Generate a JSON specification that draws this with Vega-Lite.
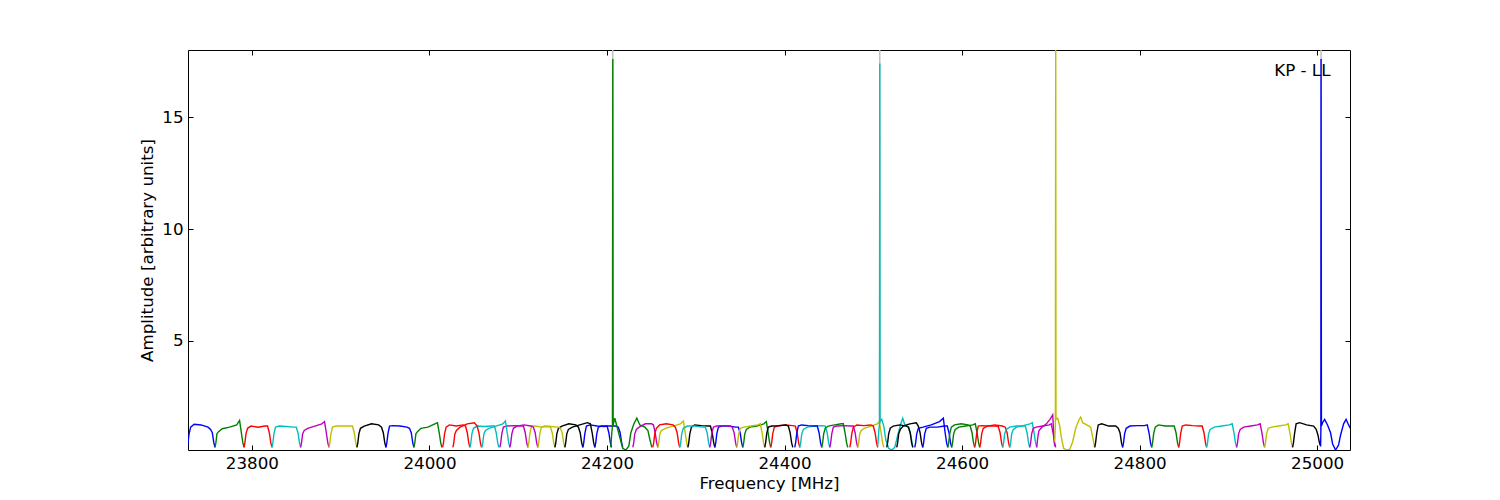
{
"$schema":"https://vega.github.io/schema/vega-lite/v6.json",
"width":1162,"height":400,
"autosize":{"type":"none"},
"padding":{"left":188,"top":50,"right":150,"bottom":50},
"background":"white",
"datasets":{
"g":[
{"s":1,"f":24206.2,"a":1.2},{"s":1,"f":24206.5,"a":19},{"s":1,"f":24206.9,"a":1.2},
{"s":2,"f":24507.0,"a":1.3},{"s":2,"f":24507.3,"a":19},{"s":2,"f":24507.6,"a":1.3},
{"s":3,"f":25004.2,"a":1.0},{"s":3,"f":25004.4,"a":19},{"s":3,"f":25004.8,"a":1.2}
],
"t":[{"f":25015,"a":16.83,"label":"KP - LL"}],
"d":[
{"s":1,"c":"b","f":23727,"a":0.25},{"s":1,"c":"b","f":23728.0,"a":0.45},{"s":1,"c":"b","f":23729.2,"a":0.85},{"s":1,"c":"b","f":23731.0,"a":1.15},{"s":1,"c":"b","f":23734.9,"a":1.28},{"s":1,"c":"b","f":23742.7,"a":1.25},{"s":1,"c":"b","f":23750.6,"a":1.15},{"s":1,"c":"b","f":23753.4,"a":1.05},{"s":1,"c":"b","f":23755.4,"a":0.9},{"s":1,"c":"b","f":23757.1,"a":0.45},{"s":1,"c":"b","f":23758.4,"a":0.25},
{"s":2,"c":"g","f":23758.4,"a":0.25},{"s":2,"c":"g","f":23759.4,"a":0.45},{"s":2,"c":"g","f":23760.6,"a":0.85},{"s":2,"c":"g","f":23762.4,"a":0.95},{"s":2,"c":"g","f":23766.6,"a":1.08},{"s":2,"c":"g","f":23774.8,"a":1.15},{"s":2,"c":"g","f":23782.9,"a":1.25},{"s":2,"c":"g","f":23786.1,"a":1.45},{"s":2,"c":"g","f":23788.1,"a":0.9},{"s":2,"c":"g","f":23789.8,"a":0.45},{"s":2,"c":"g","f":23791.1,"a":0.25},
{"s":3,"c":"r","f":23791.1,"a":0.25},{"s":3,"c":"r","f":23792.1,"a":0.45},{"s":3,"c":"r","f":23793.3,"a":0.85},{"s":3,"c":"r","f":23795.1,"a":1.1},{"s":3,"c":"r","f":23799.0,"a":1.2},{"s":3,"c":"r","f":23806.9,"a":1.15},{"s":3,"c":"r","f":23814.7,"a":1.2},{"s":3,"c":"r","f":23817.6,"a":1.2},{"s":3,"c":"r","f":23819.6,"a":0.9},{"s":3,"c":"r","f":23821.3,"a":0.45},{"s":3,"c":"r","f":23822.6,"a":0.25},
{"s":4,"c":"c","f":23822.6,"a":0.25},{"s":4,"c":"c","f":23823.6,"a":0.45},{"s":4,"c":"c","f":23824.8,"a":0.85},{"s":4,"c":"c","f":23826.6,"a":1.15},{"s":4,"c":"c","f":23830.7,"a":1.2},{"s":4,"c":"c","f":23838.8,"a":1.18},{"s":4,"c":"c","f":23846.8,"a":1.15},{"s":4,"c":"c","f":23849.9,"a":1.15},{"s":4,"c":"c","f":23851.9,"a":0.9},{"s":4,"c":"c","f":23853.6,"a":0.45},{"s":4,"c":"c","f":23854.9,"a":0.25},
{"s":5,"c":"m","f":23854.9,"a":0.25},{"s":5,"c":"m","f":23855.9,"a":0.45},{"s":5,"c":"m","f":23857.1,"a":0.85},{"s":5,"c":"m","f":23858.9,"a":1.0},{"s":5,"c":"m","f":23862.9,"a":1.1},{"s":5,"c":"m","f":23870.9,"a":1.2},{"s":5,"c":"m","f":23878.8,"a":1.3},{"s":5,"c":"m","f":23881.8,"a":1.4},{"s":5,"c":"m","f":23883.8,"a":0.9},{"s":5,"c":"m","f":23885.5,"a":0.45},{"s":5,"c":"m","f":23886.8,"a":0.25},
{"s":6,"c":"y","f":23886.8,"a":0.25},{"s":6,"c":"y","f":23887.8,"a":0.45},{"s":6,"c":"y","f":23889.0,"a":0.85},{"s":6,"c":"y","f":23890.8,"a":1.15},{"s":6,"c":"y","f":23894.7,"a":1.2},{"s":6,"c":"y","f":23902.6,"a":1.2},{"s":6,"c":"y","f":23910.4,"a":1.2},{"s":6,"c":"y","f":23913.3,"a":1.2},{"s":6,"c":"y","f":23915.3,"a":0.9},{"s":6,"c":"y","f":23917.0,"a":0.45},{"s":6,"c":"y","f":23918.3,"a":0.25},
{"s":7,"c":"k","f":23918.3,"a":0.25},{"s":7,"c":"k","f":23919.3,"a":0.45},{"s":7,"c":"k","f":23920.5,"a":0.85},{"s":7,"c":"k","f":23922.3,"a":1.1},{"s":7,"c":"k","f":23926.5,"a":1.2},{"s":7,"c":"k","f":23934.7,"a":1.3},{"s":7,"c":"k","f":23942.8,"a":1.25},{"s":7,"c":"k","f":23946.0,"a":1.15},{"s":7,"c":"k","f":23948.0,"a":0.9},{"s":7,"c":"k","f":23949.7,"a":0.45},{"s":7,"c":"k","f":23951.0,"a":0.25},
{"s":8,"c":"b","f":23951.0,"a":0.25},{"s":8,"c":"b","f":23952.0,"a":0.45},{"s":8,"c":"b","f":23953.2,"a":0.85},{"s":8,"c":"b","f":23955.0,"a":1.2},{"s":8,"c":"b","f":23958.9,"a":1.22},{"s":8,"c":"b","f":23966.8,"a":1.2},{"s":8,"c":"b","f":23974.6,"a":1.15},{"s":8,"c":"b","f":23977.5,"a":1.1},{"s":8,"c":"b","f":23979.5,"a":0.9},{"s":8,"c":"b","f":23981.2,"a":0.45},{"s":8,"c":"b","f":23982.5,"a":0.25},
{"s":9,"c":"g","f":23982.5,"a":0.25},{"s":9,"c":"g","f":23983.5,"a":0.45},{"s":9,"c":"g","f":23984.7,"a":0.85},{"s":9,"c":"g","f":23986.5,"a":0.95},{"s":9,"c":"g","f":23990.4,"a":1.1},{"s":9,"c":"g","f":23998.3,"a":1.15},{"s":9,"c":"g","f":24006.1,"a":1.3},{"s":9,"c":"g","f":24009.0,"a":1.35},{"s":9,"c":"g","f":24011.0,"a":0.9},{"s":9,"c":"g","f":24012.7,"a":0.45},{"s":9,"c":"g","f":24014.0,"a":0.25},
{"s":10,"c":"r","f":24014.8,"a":0.25},{"s":10,"c":"r","f":24015.8,"a":0.45},{"s":10,"c":"r","f":24017.0,"a":0.85},{"s":10,"c":"r","f":24018.8,"a":1.15},{"s":10,"c":"r","f":24022.5,"a":1.25},{"s":10,"c":"r","f":24030.2,"a":1.2},{"s":10,"c":"r","f":24037.9,"a":1.25},{"s":10,"c":"r","f":24040.6,"a":1.2},{"s":10,"c":"r","f":24042.6,"a":0.9},{"s":10,"c":"r","f":24044.3,"a":0.45},{"s":10,"c":"r","f":24045.6,"a":0.25},
{"s":11,"c":"c","f":24045.6,"a":0.25},{"s":11,"c":"c","f":24046.6,"a":0.45},{"s":11,"c":"c","f":24047.8,"a":0.85},{"s":11,"c":"c","f":24049.6,"a":1.1},{"s":11,"c":"c","f":24053.8,"a":1.2},{"s":11,"c":"c","f":24061.9,"a":1.18},{"s":11,"c":"c","f":24070.1,"a":1.2},{"s":11,"c":"c","f":24073.2,"a":1.2},{"s":11,"c":"c","f":24075.2,"a":0.9},{"s":11,"c":"c","f":24076.9,"a":0.45},{"s":11,"c":"c","f":24078.2,"a":0.25},
{"s":12,"c":"m","f":24079.3,"a":0.25},{"s":12,"c":"m","f":24080.3,"a":0.45},{"s":12,"c":"m","f":24081.5,"a":0.85},{"s":12,"c":"m","f":24083.3,"a":1.15},{"s":12,"c":"m","f":24087.2,"a":1.2},{"s":12,"c":"m","f":24095.1,"a":1.22},{"s":12,"c":"m","f":24103.0,"a":1.2},{"s":12,"c":"m","f":24105.9,"a":1.2},{"s":12,"c":"m","f":24107.9,"a":0.9},{"s":12,"c":"m","f":24109.6,"a":0.45},{"s":12,"c":"m","f":24110.9,"a":0.25},
{"s":13,"c":"y","f":24110.9,"a":0.25},{"s":13,"c":"y","f":24111.9,"a":0.45},{"s":13,"c":"y","f":24113.1,"a":0.85},{"s":13,"c":"y","f":24114.9,"a":1.2},{"s":13,"c":"y","f":24118.5,"a":1.2},{"s":13,"c":"y","f":24126.1,"a":1.15},{"s":13,"c":"y","f":24133.7,"a":1.18},{"s":13,"c":"y","f":24136.3,"a":1.15},{"s":13,"c":"y","f":24138.3,"a":0.9},{"s":13,"c":"y","f":24140.0,"a":0.45},{"s":13,"c":"y","f":24141.3,"a":0.25},
{"s":14,"c":"k","f":24141.3,"a":0.25},{"s":14,"c":"k","f":24142.3,"a":0.45},{"s":14,"c":"k","f":24143.5,"a":0.85},{"s":14,"c":"k","f":24145.3,"a":1.1},{"s":14,"c":"k","f":24149.2,"a":1.2},{"s":14,"c":"k","f":24157.1,"a":1.3},{"s":14,"c":"k","f":24164.9,"a":1.25},{"s":14,"c":"k","f":24167.8,"a":1.15},{"s":14,"c":"k","f":24169.8,"a":0.9},{"s":14,"c":"k","f":24171.5,"a":0.45},{"s":14,"c":"k","f":24172.8,"a":0.25},
{"s":15,"c":"b","f":24172.8,"a":0.25},{"s":15,"c":"b","f":24173.8,"a":0.45},{"s":15,"c":"b","f":24175.0,"a":0.85},{"s":15,"c":"b","f":24176.8,"a":1.2},{"s":15,"c":"b","f":24180.9,"a":1.25},{"s":15,"c":"b","f":24189.0,"a":1.2},{"s":15,"c":"b","f":24197.0,"a":1.18},{"s":15,"c":"b","f":24200.1,"a":1.2},{"s":15,"c":"b","f":24202.1,"a":0.9},{"s":15,"c":"b","f":24203.8,"a":0.45},{"s":15,"c":"b","f":24205.1,"a":0.25},
{"s":16,"c":"r","f":24026.4,"a":0.25},{"s":16,"c":"r","f":24027.4,"a":0.45},{"s":16,"c":"r","f":24028.6,"a":0.85},{"s":16,"c":"r","f":24030.4,"a":1.0},{"s":16,"c":"r","f":24034.5,"a":1.15},{"s":16,"c":"r","f":24042.6,"a":1.3},{"s":16,"c":"r","f":24050.6,"a":1.35},{"s":16,"c":"r","f":24053.7,"a":1.2},{"s":16,"c":"r","f":24055.7,"a":0.9},{"s":16,"c":"r","f":24057.4,"a":0.45},{"s":16,"c":"r","f":24058.7,"a":0.25},
{"s":17,"c":"c","f":24059.1,"a":0.25},{"s":17,"c":"c","f":24060.1,"a":0.45},{"s":17,"c":"c","f":24061.3,"a":0.85},{"s":17,"c":"c","f":24063.1,"a":1.0},{"s":17,"c":"c","f":24067.0,"a":1.1},{"s":17,"c":"c","f":24074.9,"a":1.2},{"s":17,"c":"c","f":24082.7,"a":1.3},{"s":17,"c":"c","f":24085.6,"a":1.42},{"s":17,"c":"c","f":24087.6,"a":0.9},{"s":17,"c":"c","f":24089.3,"a":0.45},{"s":17,"c":"c","f":24090.6,"a":0.25},
{"s":18,"c":"m","f":24090.6,"a":0.25},{"s":18,"c":"m","f":24091.6,"a":0.45},{"s":18,"c":"m","f":24092.8,"a":0.85},{"s":18,"c":"m","f":24094.6,"a":1.1},{"s":18,"c":"m","f":24098.5,"a":1.2},{"s":18,"c":"m","f":24106.4,"a":1.25},{"s":18,"c":"m","f":24114.2,"a":1.2},{"s":18,"c":"m","f":24117.1,"a":1.15},{"s":18,"c":"m","f":24119.1,"a":0.9},{"s":18,"c":"m","f":24120.8,"a":0.45},{"s":18,"c":"m","f":24122.1,"a":0.25},
{"s":19,"c":"y","f":24122.1,"a":0.25},{"s":19,"c":"y","f":24123.1,"a":0.45},{"s":19,"c":"y","f":24124.3,"a":0.85},{"s":19,"c":"y","f":24126.1,"a":1.15},{"s":19,"c":"y","f":24129.7,"a":1.2},{"s":19,"c":"y","f":24137.3,"a":1.18},{"s":19,"c":"y","f":24144.9,"a":1.15},{"s":19,"c":"y","f":24147.5,"a":1.1},{"s":19,"c":"y","f":24149.5,"a":0.9},{"s":19,"c":"y","f":24151.2,"a":0.45},{"s":19,"c":"y","f":24152.5,"a":0.25},
{"s":20,"c":"k","f":24152.5,"a":0.25},{"s":20,"c":"k","f":24153.5,"a":0.45},{"s":20,"c":"k","f":24154.7,"a":0.85},{"s":20,"c":"k","f":24156.5,"a":1.05},{"s":20,"c":"k","f":24161.0,"a":1.15},{"s":20,"c":"k","f":24169.4,"a":1.25},{"s":20,"c":"k","f":24177.9,"a":1.35},{"s":20,"c":"k","f":24181.3,"a":1.3},{"s":20,"c":"k","f":24183.3,"a":0.9},{"s":20,"c":"k","f":24185.0,"a":0.45},{"s":20,"c":"k","f":24186.3,"a":0.25},
{"s":21,"c":"b","f":24186.3,"a":0.25},{"s":21,"c":"b","f":24187.3,"a":0.45},{"s":21,"c":"b","f":24188.5,"a":0.85},{"s":21,"c":"b","f":24190.3,"a":1.15},{"s":21,"c":"b","f":24194.2,"a":1.2},{"s":21,"c":"b","f":24202.1,"a":1.2},{"s":21,"c":"b","f":24209.9,"a":1.2},{"s":21,"c":"b","f":24212.8,"a":1.15},{"s":21,"c":"b","f":24214.8,"a":0.9},{"s":21,"c":"b","f":24216.5,"a":0.45},{"s":21,"c":"b","f":24217.8,"a":0.25},
{"s":22,"c":"g","f":24204.3,"a":0.25},{"s":22,"c":"g","f":24205.4,"a":0.9},{"s":22,"c":"g","f":24206.2,"a":1.2},{"s":22,"c":"g","f":24206.5,"a":17.6},{"s":22,"c":"g","f":24206.9,"a":1.25},{"s":22,"c":"g","f":24208.8,"a":1.55},{"s":22,"c":"g","f":24211.1,"a":1.2},{"s":22,"c":"g","f":24214.4,"a":0.7},{"s":22,"c":"g","f":24217.8,"a":0.2},{"s":22,"c":"g","f":24221.2,"a":0.13},{"s":22,"c":"g","f":24224.6,"a":0.3},{"s":22,"c":"g","f":24226.9,"a":0.9},{"s":22,"c":"g","f":24230.3,"a":1.3},{"s":22,"c":"g","f":24233.6,"a":1.55},{"s":22,"c":"g","f":24237.0,"a":1.25},{"s":22,"c":"g","f":24242.7,"a":1.15},{"s":22,"c":"g","f":24246.1,"a":1.0},{"s":22,"c":"g","f":24248.3,"a":0.6},{"s":22,"c":"g","f":24250.5,"a":0.25},
{"s":23,"c":"m","f":24229.1,"a":0.25},{"s":23,"c":"m","f":24230.1,"a":0.45},{"s":23,"c":"m","f":24231.3,"a":0.85},{"s":23,"c":"m","f":24233.1,"a":1.05},{"s":23,"c":"m","f":24236.2,"a":1.15},{"s":23,"c":"m","f":24243.2,"a":1.3},{"s":23,"c":"m","f":24250.3,"a":1.3},{"s":23,"c":"m","f":24252.3,"a":1.25},{"s":23,"c":"m","f":24254.3,"a":0.9},{"s":23,"c":"m","f":24256.0,"a":0.45},{"s":23,"c":"m","f":24257.3,"a":0.25},
{"s":24,"c":"y","f":24257.3,"a":0.25},{"s":24,"c":"y","f":24258.3,"a":0.45},{"s":24,"c":"y","f":24259.5,"a":0.85},{"s":24,"c":"y","f":24261.3,"a":1.0},{"s":24,"c":"y","f":24265.8,"a":1.1},{"s":24,"c":"y","f":24274.2,"a":1.2},{"s":24,"c":"y","f":24282.7,"a":1.3},{"s":24,"c":"y","f":24286.1,"a":1.42},{"s":24,"c":"y","f":24288.1,"a":0.9},{"s":24,"c":"y","f":24289.8,"a":0.45},{"s":24,"c":"y","f":24291.1,"a":0.25},
{"s":25,"c":"k","f":24291.1,"a":0.25},{"s":25,"c":"k","f":24292.1,"a":0.45},{"s":25,"c":"k","f":24293.3,"a":0.85},{"s":25,"c":"k","f":24295.1,"a":1.15},{"s":25,"c":"k","f":24298.7,"a":1.25},{"s":25,"c":"k","f":24306.3,"a":1.22},{"s":25,"c":"k","f":24313.9,"a":1.2},{"s":25,"c":"k","f":24316.5,"a":1.2},{"s":25,"c":"k","f":24318.5,"a":0.9},{"s":25,"c":"k","f":24320.2,"a":0.45},{"s":25,"c":"k","f":24321.5,"a":0.25},
{"s":26,"c":"b","f":24321.5,"a":0.25},{"s":26,"c":"b","f":24322.5,"a":0.45},{"s":26,"c":"b","f":24323.7,"a":0.85},{"s":26,"c":"b","f":24325.5,"a":1.15},{"s":26,"c":"b","f":24329.4,"a":1.2},{"s":26,"c":"b","f":24337.3,"a":1.2},{"s":26,"c":"b","f":24345.1,"a":1.15},{"s":26,"c":"b","f":24348.0,"a":1.15},{"s":26,"c":"b","f":24350.0,"a":0.9},{"s":26,"c":"b","f":24351.7,"a":0.45},{"s":26,"c":"b","f":24353.0,"a":0.25},
{"s":27,"c":"g","f":24353.0,"a":0.25},{"s":27,"c":"g","f":24354.0,"a":0.45},{"s":27,"c":"g","f":24355.2,"a":0.85},{"s":27,"c":"g","f":24357.0,"a":1.05},{"s":27,"c":"g","f":24360.9,"a":1.15},{"s":27,"c":"g","f":24368.8,"a":1.2},{"s":27,"c":"g","f":24376.6,"a":1.3},{"s":27,"c":"g","f":24379.5,"a":1.4},{"s":27,"c":"g","f":24381.5,"a":0.9},{"s":27,"c":"g","f":24383.2,"a":0.45},{"s":27,"c":"g","f":24384.5,"a":0.25},
{"s":28,"c":"r","f":24384.5,"a":0.25},{"s":28,"c":"r","f":24385.5,"a":0.45},{"s":28,"c":"r","f":24386.7,"a":0.85},{"s":28,"c":"r","f":24388.5,"a":1.15},{"s":28,"c":"r","f":24392.7,"a":1.2},{"s":28,"c":"r","f":24400.9,"a":1.25},{"s":28,"c":"r","f":24409.0,"a":1.22},{"s":28,"c":"r","f":24412.2,"a":1.2},{"s":28,"c":"r","f":24414.2,"a":0.9},{"s":28,"c":"r","f":24415.9,"a":0.45},{"s":28,"c":"r","f":24417.2,"a":0.25},
{"s":29,"c":"c","f":24417.2,"a":0.25},{"s":29,"c":"c","f":24418.2,"a":0.45},{"s":29,"c":"c","f":24419.4,"a":0.85},{"s":29,"c":"c","f":24421.2,"a":1.05},{"s":29,"c":"c","f":24425.7,"a":1.15},{"s":29,"c":"c","f":24434.1,"a":1.2},{"s":29,"c":"c","f":24442.6,"a":1.22},{"s":29,"c":"c","f":24446.0,"a":1.2},{"s":29,"c":"c","f":24448.0,"a":0.9},{"s":29,"c":"c","f":24449.7,"a":0.45},{"s":29,"c":"c","f":24451.0,"a":0.25},
{"s":30,"c":"m","f":24451.0,"a":0.25},{"s":30,"c":"m","f":24452.0,"a":0.45},{"s":30,"c":"m","f":24453.2,"a":0.85},{"s":30,"c":"m","f":24455.0,"a":1.15},{"s":30,"c":"m","f":24458.9,"a":1.2},{"s":30,"c":"m","f":24466.8,"a":1.22},{"s":30,"c":"m","f":24474.6,"a":1.2},{"s":30,"c":"m","f":24477.5,"a":1.2},{"s":30,"c":"m","f":24479.5,"a":0.9},{"s":30,"c":"m","f":24481.2,"a":0.45},{"s":30,"c":"m","f":24482.5,"a":0.25},
{"s":31,"c":"y","f":24482.5,"a":0.25},{"s":31,"c":"y","f":24483.5,"a":0.45},{"s":31,"c":"y","f":24484.7,"a":0.85},{"s":31,"c":"y","f":24486.5,"a":1.0},{"s":31,"c":"y","f":24489.8,"a":1.1},{"s":31,"c":"y","f":24497.2,"a":1.2},{"s":31,"c":"y","f":24504.5,"a":1.3},{"s":31,"c":"y","f":24506.8,"a":1.4},{"s":31,"c":"y","f":24508.8,"a":0.9},{"s":31,"c":"y","f":24510.5,"a":0.45},{"s":31,"c":"y","f":24511.8,"a":0.25},
{"s":32,"c":"r","f":24251.6,"a":0.25},{"s":32,"c":"r","f":24252.6,"a":0.45},{"s":32,"c":"r","f":24253.8,"a":0.85},{"s":32,"c":"r","f":24255.6,"a":1.1},{"s":32,"c":"r","f":24259.2,"a":1.25},{"s":32,"c":"r","f":24266.8,"a":1.3},{"s":32,"c":"r","f":24274.4,"a":1.25},{"s":32,"c":"r","f":24277.0,"a":1.15},{"s":32,"c":"r","f":24279.0,"a":0.9},{"s":32,"c":"r","f":24280.7,"a":0.45},{"s":32,"c":"r","f":24282.0,"a":0.25},
{"s":33,"c":"c","f":24282.0,"a":0.25},{"s":33,"c":"c","f":24283.0,"a":0.45},{"s":33,"c":"c","f":24284.2,"a":0.85},{"s":33,"c":"c","f":24286.0,"a":1.1},{"s":33,"c":"c","f":24290.5,"a":1.2},{"s":33,"c":"c","f":24298.9,"a":1.2},{"s":33,"c":"c","f":24307.4,"a":1.15},{"s":33,"c":"c","f":24310.8,"a":1.15},{"s":33,"c":"c","f":24312.8,"a":0.9},{"s":33,"c":"c","f":24314.5,"a":0.45},{"s":33,"c":"c","f":24315.8,"a":0.25},
{"s":34,"c":"m","f":24315.8,"a":0.25},{"s":34,"c":"m","f":24316.8,"a":0.45},{"s":34,"c":"m","f":24318.0,"a":0.85},{"s":34,"c":"m","f":24319.8,"a":1.15},{"s":34,"c":"m","f":24323.4,"a":1.2},{"s":34,"c":"m","f":24331.0,"a":1.22},{"s":34,"c":"m","f":24338.6,"a":1.2},{"s":34,"c":"m","f":24341.2,"a":1.15},{"s":34,"c":"m","f":24343.2,"a":0.9},{"s":34,"c":"m","f":24344.9,"a":0.45},{"s":34,"c":"m","f":24346.2,"a":0.25},
{"s":35,"c":"y","f":24346.2,"a":0.25},{"s":35,"c":"y","f":24347.2,"a":0.45},{"s":35,"c":"y","f":24348.4,"a":0.85},{"s":35,"c":"y","f":24350.2,"a":1.1},{"s":35,"c":"y","f":24354.1,"a":1.15},{"s":35,"c":"y","f":24362.0,"a":1.2},{"s":35,"c":"y","f":24369.8,"a":1.25},{"s":35,"c":"y","f":24372.7,"a":1.3},{"s":35,"c":"y","f":24374.7,"a":0.9},{"s":35,"c":"y","f":24376.4,"a":0.45},{"s":35,"c":"y","f":24377.7,"a":0.25},
{"s":36,"c":"k","f":24377.7,"a":0.25},{"s":36,"c":"k","f":24378.7,"a":0.45},{"s":36,"c":"k","f":24379.9,"a":0.85},{"s":36,"c":"k","f":24381.7,"a":1.15},{"s":36,"c":"k","f":24385.6,"a":1.2},{"s":36,"c":"k","f":24393.5,"a":1.22},{"s":36,"c":"k","f":24401.4,"a":1.25},{"s":36,"c":"k","f":24404.3,"a":1.2},{"s":36,"c":"k","f":24406.3,"a":0.9},{"s":36,"c":"k","f":24408.0,"a":0.45},{"s":36,"c":"k","f":24409.3,"a":0.25},
{"s":37,"c":"b","f":24411.5,"a":0.25},{"s":37,"c":"b","f":24412.5,"a":0.45},{"s":37,"c":"b","f":24413.7,"a":0.85},{"s":37,"c":"b","f":24415.5,"a":1.2},{"s":37,"c":"b","f":24419.1,"a":1.25},{"s":37,"c":"b","f":24426.7,"a":1.22},{"s":37,"c":"b","f":24434.3,"a":1.2},{"s":37,"c":"b","f":24436.9,"a":1.2},{"s":37,"c":"b","f":24438.9,"a":0.9},{"s":37,"c":"b","f":24440.6,"a":0.45},{"s":37,"c":"b","f":24441.9,"a":0.25},
{"s":38,"c":"g","f":24441.9,"a":0.25},{"s":38,"c":"g","f":24442.9,"a":0.45},{"s":38,"c":"g","f":24444.1,"a":0.85},{"s":38,"c":"g","f":24445.9,"a":1.1},{"s":38,"c":"g","f":24449.2,"a":1.2},{"s":38,"c":"g","f":24456.6,"a":1.25},{"s":38,"c":"g","f":24463.9,"a":1.3},{"s":38,"c":"g","f":24466.2,"a":1.3},{"s":38,"c":"g","f":24468.2,"a":0.9},{"s":38,"c":"g","f":24469.9,"a":0.45},{"s":38,"c":"g","f":24471.2,"a":0.25},
{"s":39,"c":"r","f":24473.5,"a":0.25},{"s":39,"c":"r","f":24474.5,"a":0.45},{"s":39,"c":"r","f":24475.7,"a":0.85},{"s":39,"c":"r","f":24477.5,"a":1.15},{"s":39,"c":"r","f":24481.4,"a":1.25},{"s":39,"c":"r","f":24489.3,"a":1.22},{"s":39,"c":"r","f":24497.1,"a":1.25},{"s":39,"c":"r","f":24500.0,"a":1.2},{"s":39,"c":"r","f":24502.0,"a":0.9},{"s":39,"c":"r","f":24503.7,"a":0.45},{"s":39,"c":"r","f":24505.0,"a":0.25},
{"s":40,"c":"c","f":24505.0,"a":0.3},{"s":40,"c":"c","f":24506.2,"a":1.0},{"s":40,"c":"c","f":24507.0,"a":1.3},{"s":40,"c":"c","f":24507.3,"a":17.4},{"s":40,"c":"c","f":24507.6,"a":1.4},{"s":40,"c":"c","f":24509.5,"a":1.5},{"s":40,"c":"c","f":24511.8,"a":1.2},{"s":40,"c":"c","f":24514.0,"a":0.6},{"s":40,"c":"c","f":24517.4,"a":0.2},{"s":40,"c":"c","f":24520.8,"a":0.13},{"s":40,"c":"c","f":24524.2,"a":0.25},{"s":40,"c":"c","f":24527.6,"a":0.8},{"s":40,"c":"c","f":24531.0,"a":1.3},{"s":40,"c":"c","f":24533.2,"a":1.55},{"s":40,"c":"c","f":24535.5,"a":1.25},{"s":40,"c":"c","f":24540.0,"a":1.15},{"s":40,"c":"c","f":24542.2,"a":0.8},{"s":40,"c":"c","f":24544.5,"a":0.25},
{"s":41,"c":"k","f":24515.1,"a":0.25},{"s":41,"c":"k","f":24516.1,"a":0.45},{"s":41,"c":"k","f":24517.3,"a":0.85},{"s":41,"c":"k","f":24519.1,"a":1.1},{"s":41,"c":"k","f":24522.5,"a":1.2},{"s":41,"c":"k","f":24529.8,"a":1.25},{"s":41,"c":"k","f":24537.2,"a":1.2},{"s":41,"c":"k","f":24539.5,"a":1.15},{"s":41,"c":"k","f":24541.5,"a":0.9},{"s":41,"c":"k","f":24543.2,"a":0.45},{"s":41,"c":"k","f":24544.5,"a":0.25},
{"s":42,"c":"k","f":24526.4,"a":0.25},{"s":42,"c":"k","f":24527.4,"a":0.45},{"s":42,"c":"k","f":24528.6,"a":0.85},{"s":42,"c":"k","f":24530.4,"a":1.05},{"s":42,"c":"k","f":24533.7,"a":1.2},{"s":42,"c":"k","f":24541.1,"a":1.3},{"s":42,"c":"k","f":24548.4,"a":1.35},{"s":42,"c":"k","f":24550.7,"a":1.2},{"s":42,"c":"k","f":24552.7,"a":0.9},{"s":42,"c":"k","f":24554.4,"a":0.45},{"s":42,"c":"k","f":24555.7,"a":0.25},
{"s":43,"c":"b","f":24546.7,"a":0.25},{"s":43,"c":"b","f":24547.7,"a":0.45},{"s":43,"c":"b","f":24548.9,"a":0.85},{"s":43,"c":"b","f":24550.7,"a":1.1},{"s":43,"c":"b","f":24556.0,"a":1.15},{"s":43,"c":"b","f":24565.3,"a":1.25},{"s":43,"c":"b","f":24574.6,"a":1.4},{"s":43,"c":"b","f":24578.9,"a":1.55},{"s":43,"c":"b","f":24580.9,"a":0.9},{"s":43,"c":"b","f":24582.6,"a":0.45},{"s":43,"c":"b","f":24583.9,"a":0.25},
{"s":44,"c":"b","f":24555.7,"a":0.25},{"s":44,"c":"b","f":24556.7,"a":0.45},{"s":44,"c":"b","f":24557.9,"a":0.85},{"s":44,"c":"b","f":24559.7,"a":1.1},{"s":44,"c":"b","f":24563.9,"a":1.15},{"s":44,"c":"b","f":24572.0,"a":1.15},{"s":44,"c":"b","f":24580.2,"a":1.2},{"s":44,"c":"b","f":24583.3,"a":1.2},{"s":44,"c":"b","f":24585.3,"a":0.9},{"s":44,"c":"b","f":24587.0,"a":0.45},{"s":44,"c":"b","f":24588.3,"a":0.25},
{"s":45,"c":"g","f":24583.9,"a":0.25},{"s":45,"c":"g","f":24584.9,"a":0.45},{"s":45,"c":"g","f":24586.1,"a":0.85},{"s":45,"c":"g","f":24587.9,"a":1.15},{"s":45,"c":"g","f":24591.5,"a":1.25},{"s":45,"c":"g","f":24599.1,"a":1.3},{"s":45,"c":"g","f":24606.6,"a":1.25},{"s":45,"c":"g","f":24609.2,"a":1.2},{"s":45,"c":"g","f":24611.2,"a":0.9},{"s":45,"c":"g","f":24612.9,"a":0.45},{"s":45,"c":"g","f":24614.2,"a":0.25},
{"s":46,"c":"g","f":24588.3,"a":0.25},{"s":46,"c":"g","f":24589.3,"a":0.45},{"s":46,"c":"g","f":24590.5,"a":0.85},{"s":46,"c":"g","f":24592.3,"a":1.05},{"s":46,"c":"g","f":24596.2,"a":1.15},{"s":46,"c":"g","f":24604.1,"a":1.2},{"s":46,"c":"g","f":24612.0,"a":1.25},{"s":46,"c":"g","f":24614.9,"a":1.3},{"s":46,"c":"g","f":24616.9,"a":0.9},{"s":46,"c":"g","f":24618.6,"a":0.45},{"s":46,"c":"g","f":24619.9,"a":0.25},
{"s":47,"c":"r","f":24614.2,"a":0.25},{"s":47,"c":"r","f":24615.2,"a":0.45},{"s":47,"c":"r","f":24616.4,"a":0.85},{"s":47,"c":"r","f":24618.2,"a":1.2},{"s":47,"c":"r","f":24622.1,"a":1.22},{"s":47,"c":"r","f":24630.0,"a":1.2},{"s":47,"c":"r","f":24637.9,"a":1.2},{"s":47,"c":"r","f":24640.8,"a":1.18},{"s":47,"c":"r","f":24642.8,"a":0.9},{"s":47,"c":"r","f":24644.5,"a":0.45},{"s":47,"c":"r","f":24645.8,"a":0.25},
{"s":48,"c":"r","f":24619.9,"a":0.25},{"s":48,"c":"r","f":24620.9,"a":0.45},{"s":48,"c":"r","f":24622.1,"a":0.85},{"s":48,"c":"r","f":24623.9,"a":1.1},{"s":48,"c":"r","f":24628.4,"a":1.2},{"s":48,"c":"r","f":24636.8,"a":1.25},{"s":48,"c":"r","f":24645.3,"a":1.2},{"s":48,"c":"r","f":24648.7,"a":1.15},{"s":48,"c":"r","f":24650.7,"a":0.9},{"s":48,"c":"r","f":24652.4,"a":0.45},{"s":48,"c":"r","f":24653.7,"a":0.25},
{"s":49,"c":"c","f":24645.8,"a":0.25},{"s":49,"c":"c","f":24646.8,"a":0.45},{"s":49,"c":"c","f":24648.0,"a":0.85},{"s":49,"c":"c","f":24649.8,"a":1.05},{"s":49,"c":"c","f":24653.4,"a":1.15},{"s":49,"c":"c","f":24661.0,"a":1.2},{"s":49,"c":"c","f":24668.6,"a":1.2},{"s":49,"c":"c","f":24671.2,"a":1.2},{"s":49,"c":"c","f":24673.2,"a":0.9},{"s":49,"c":"c","f":24674.9,"a":0.45},{"s":49,"c":"c","f":24676.2,"a":0.25},
{"s":50,"c":"c","f":24653.7,"a":0.25},{"s":50,"c":"c","f":24654.7,"a":0.45},{"s":50,"c":"c","f":24655.9,"a":0.85},{"s":50,"c":"c","f":24657.7,"a":1.05},{"s":50,"c":"c","f":24661.3,"a":1.15},{"s":50,"c":"c","f":24668.9,"a":1.22},{"s":50,"c":"c","f":24676.5,"a":1.3},{"s":50,"c":"c","f":24679.1,"a":1.35},{"s":50,"c":"c","f":24681.1,"a":0.9},{"s":50,"c":"c","f":24682.8,"a":0.45},{"s":50,"c":"c","f":24684.1,"a":0.25},
{"s":51,"c":"m","f":24676.2,"a":0.25},{"s":51,"c":"m","f":24677.2,"a":0.45},{"s":51,"c":"m","f":24678.4,"a":0.85},{"s":51,"c":"m","f":24680.2,"a":1.1},{"s":51,"c":"m","f":24683.5,"a":1.15},{"s":51,"c":"m","f":24690.9,"a":1.2},{"s":51,"c":"m","f":24698.2,"a":1.25},{"s":51,"c":"m","f":24700.5,"a":1.3},{"s":51,"c":"m","f":24702.5,"a":0.9},{"s":51,"c":"m","f":24704.2,"a":0.45},{"s":51,"c":"m","f":24705.5,"a":0.25},
{"s":52,"c":"m","f":24684.1,"a":0.25},{"s":52,"c":"m","f":24685.3,"a":0.7},{"s":52,"c":"m","f":24686.6,"a":1.0},{"s":52,"c":"m","f":24690.0,"a":1.15},{"s":52,"c":"m","f":24695.0,"a":1.3},{"s":52,"c":"m","f":24699.0,"a":1.5},{"s":52,"c":"m","f":24702.1,"a":1.7},{"s":52,"c":"m","f":24703.2,"a":0.9},{"s":52,"c":"m","f":24704.3,"a":0.3},
{"s":53,"c":"y","f":24704.3,"a":0.5},{"s":53,"c":"y","f":24705.1,"a":1.2},{"s":53,"c":"y","f":24705.5,"a":18.5},{"s":53,"c":"y","f":24705.8,"a":1.5},{"s":53,"c":"y","f":24707.7,"a":1.55},{"s":53,"c":"y","f":24710.0,"a":1.2},{"s":53,"c":"y","f":24712.2,"a":0.6},{"s":53,"c":"y","f":24714.5,"a":0.2},{"s":53,"c":"y","f":24717.8,"a":0.13},{"s":53,"c":"y","f":24721.2,"a":0.15},{"s":53,"c":"y","f":24724.6,"a":0.5},{"s":53,"c":"y","f":24728.0,"a":1.1},{"s":53,"c":"y","f":24731.4,"a":1.45},{"s":53,"c":"y","f":24733.6,"a":1.6},{"s":53,"c":"y","f":24735.9,"a":1.35},{"s":53,"c":"y","f":24740.4,"a":1.25},{"s":53,"c":"y","f":24744.9,"a":1.15},{"s":53,"c":"y","f":24747.1,"a":0.7},{"s":53,"c":"y","f":24749.4,"a":0.25},
{"s":54,"c":"k","f":24749.4,"a":0.25},{"s":54,"c":"k","f":24750.4,"a":0.45},{"s":54,"c":"k","f":24751.6,"a":0.85},{"s":54,"c":"k","f":24753.4,"a":1.25},{"s":54,"c":"k","f":24757.3,"a":1.3},{"s":54,"c":"k","f":24765.2,"a":1.2},{"s":54,"c":"k","f":24773.0,"a":1.2},{"s":54,"c":"k","f":24775.9,"a":1.1},{"s":54,"c":"k","f":24777.9,"a":0.9},{"s":54,"c":"k","f":24779.6,"a":0.45},{"s":54,"c":"k","f":24780.9,"a":0.25},
{"s":55,"c":"b","f":24780.9,"a":0.25},{"s":55,"c":"b","f":24781.9,"a":0.45},{"s":55,"c":"b","f":24783.1,"a":0.85},{"s":55,"c":"b","f":24784.9,"a":1.1},{"s":55,"c":"b","f":24789.1,"a":1.2},{"s":55,"c":"b","f":24797.3,"a":1.22},{"s":55,"c":"b","f":24805.4,"a":1.22},{"s":55,"c":"b","f":24808.6,"a":1.25},{"s":55,"c":"b","f":24810.6,"a":0.9},{"s":55,"c":"b","f":24812.3,"a":0.45},{"s":55,"c":"b","f":24813.6,"a":0.25},
{"s":56,"c":"g","f":24813.6,"a":0.25},{"s":56,"c":"g","f":24814.6,"a":0.45},{"s":56,"c":"g","f":24815.8,"a":0.85},{"s":56,"c":"g","f":24817.6,"a":1.15},{"s":56,"c":"g","f":24821.2,"a":1.25},{"s":56,"c":"g","f":24828.8,"a":1.2},{"s":56,"c":"g","f":24836.4,"a":1.2},{"s":56,"c":"g","f":24839.0,"a":1.2},{"s":56,"c":"g","f":24841.0,"a":0.9},{"s":56,"c":"g","f":24842.7,"a":0.45},{"s":56,"c":"g","f":24844.0,"a":0.25},
{"s":57,"c":"r","f":24844.0,"a":0.25},{"s":57,"c":"r","f":24845.0,"a":0.45},{"s":57,"c":"r","f":24846.2,"a":0.85},{"s":57,"c":"r","f":24848.0,"a":1.2},{"s":57,"c":"r","f":24851.9,"a":1.25},{"s":57,"c":"r","f":24859.8,"a":1.22},{"s":57,"c":"r","f":24867.6,"a":1.2},{"s":57,"c":"r","f":24870.5,"a":1.2},{"s":57,"c":"r","f":24872.5,"a":0.9},{"s":57,"c":"r","f":24874.2,"a":0.45},{"s":57,"c":"r","f":24875.5,"a":0.25},
{"s":58,"c":"c","f":24875.5,"a":0.25},{"s":58,"c":"c","f":24876.5,"a":0.45},{"s":58,"c":"c","f":24877.7,"a":0.85},{"s":58,"c":"c","f":24879.5,"a":1.05},{"s":58,"c":"c","f":24884.0,"a":1.15},{"s":58,"c":"c","f":24892.4,"a":1.2},{"s":58,"c":"c","f":24900.9,"a":1.25},{"s":58,"c":"c","f":24904.3,"a":1.3},{"s":58,"c":"c","f":24906.3,"a":0.9},{"s":58,"c":"c","f":24908.0,"a":0.45},{"s":58,"c":"c","f":24909.3,"a":0.25},
{"s":59,"c":"m","f":24909.3,"a":0.25},{"s":59,"c":"m","f":24910.3,"a":0.45},{"s":59,"c":"m","f":24911.5,"a":0.85},{"s":59,"c":"m","f":24913.3,"a":1.05},{"s":59,"c":"m","f":24917.2,"a":1.15},{"s":59,"c":"m","f":24925.1,"a":1.2},{"s":59,"c":"m","f":24932.9,"a":1.25},{"s":59,"c":"m","f":24935.8,"a":1.3},{"s":59,"c":"m","f":24937.8,"a":0.9},{"s":59,"c":"m","f":24939.5,"a":0.45},{"s":59,"c":"m","f":24940.8,"a":0.25},
{"s":60,"c":"y","f":24940.8,"a":0.25},{"s":60,"c":"y","f":24941.8,"a":0.45},{"s":60,"c":"y","f":24943.0,"a":0.85},{"s":60,"c":"y","f":24944.8,"a":1.1},{"s":60,"c":"y","f":24948.7,"a":1.15},{"s":60,"c":"y","f":24956.6,"a":1.2},{"s":60,"c":"y","f":24964.4,"a":1.25},{"s":60,"c":"y","f":24967.3,"a":1.3},{"s":60,"c":"y","f":24969.3,"a":0.9},{"s":60,"c":"y","f":24971.0,"a":0.45},{"s":60,"c":"y","f":24972.3,"a":0.25},
{"s":61,"c":"k","f":24972.3,"a":0.25},{"s":61,"c":"k","f":24973.3,"a":0.45},{"s":61,"c":"k","f":24974.5,"a":0.85},{"s":61,"c":"k","f":24976.3,"a":1.3},{"s":61,"c":"k","f":24980.2,"a":1.35},{"s":61,"c":"k","f":24988.1,"a":1.25},{"s":61,"c":"k","f":24996.0,"a":1.2},{"s":61,"c":"k","f":24998.9,"a":1.05},{"s":61,"c":"k","f":25000.9,"a":0.8},{"s":61,"c":"k","f":25002.6,"a":0.45},{"s":61,"c":"k","f":25003.9,"a":0.3},
{"s":62,"c":"b","f":25003.9,"a":0.3},{"s":62,"c":"b","f":25004.2,"a":1.0},{"s":62,"c":"b","f":25004.4,"a":17.6},{"s":62,"c":"b","f":25004.8,"a":1.2},{"s":62,"c":"b","f":25006.1,"a":1.35},{"s":62,"c":"b","f":25008.4,"a":1.5},{"s":62,"c":"b","f":25011.7,"a":1.25},{"s":62,"c":"b","f":25015.1,"a":0.9},{"s":62,"c":"b","f":25017.4,"a":0.4},{"s":62,"c":"b","f":25020.8,"a":0.13},{"s":62,"c":"b","f":25024.1,"a":0.35},{"s":62,"c":"b","f":25026.4,"a":0.8},{"s":62,"c":"b","f":25029.8,"a":1.3},{"s":62,"c":"b","f":25032.6,"a":1.5},{"s":62,"c":"b","f":25035.4,"a":1.25},{"s":62,"c":"b","f":25038.8,"a":1.0}
]
},
"layer":[
{"data":{"name":"g"},
 "mark":{"type":"line","strokeWidth":1.4,"color":"#bfbfbf","clip":true},
 "encoding":{
  "x":{"field":"f","type":"quantitative","scale":{"domain":[23728,25037],"nice":false,"zero":false},
       "axis":{"orient":"bottom","values":[23800,24000,24200,24400,24600,24800,25000],"format":"d","labelPadding":10,"title":"Frequency [MHz]","titlePadding":4}},
  "y":{"field":"a","type":"quantitative","scale":{"domain":[0.13,18],"nice":false,"zero":false},
       "axis":{"orient":"left","values":[5,10,15],"labelPadding":10,"title":"Amplitude [arbitrary units]","titlePadding":5}},
  "detail":{"field":"s","type":"nominal"}
 }},
{"data":{"name":"d"},
 "mark":{"type":"line","strokeWidth":1.4,"clip":true},
 "encoding":{
  "x":{"field":"f","type":"quantitative","axis":{"orient":"top","values":[23800,24000,24200,24400,24600,24800,25000],"labels":false,"title":null}},
  "y":{"field":"a","type":"quantitative","axis":{"orient":"right","values":[5,10,15],"labels":false,"title":null}},
  "color":{"field":"c","type":"nominal","legend":null,"scale":{"domain":["b","g","r","c","m","y","k"],"range":["#0000ff","#008000","#ff0000","#00bfbf","#bf00bf","#bfbf00","#000000"]}},
  "detail":{"field":"s","type":"nominal"}
 }},
{"data":{"name":"t"},
 "mark":{"type":"text","align":"right","baseline":"alphabetic","fontSize":16.7,"font":"DejaVu Sans","color":"black"},
 "encoding":{
  "x":{"field":"f","type":"quantitative","axis":null},
  "y":{"field":"a","type":"quantitative","axis":null},
  "text":{"field":"label"}
 }}
],
"resolve":{"axis":{"x":"independent","y":"independent"}},
"config":{
 "view":{"stroke":"black","strokeWidth":1},
 "font":"DejaVu Sans",
 "axis":{"labelFont":"DejaVu Sans","titleFont":"DejaVu Sans","labelFontSize":16.7,"titleFontSize":16.7,"titleFontWeight":"normal","labelColor":"black","titleColor":"black","tickColor":"black","tickSize":-5,"tickWidth":1,"domain":false,"grid":false,"labelFlush":false}
}
}
